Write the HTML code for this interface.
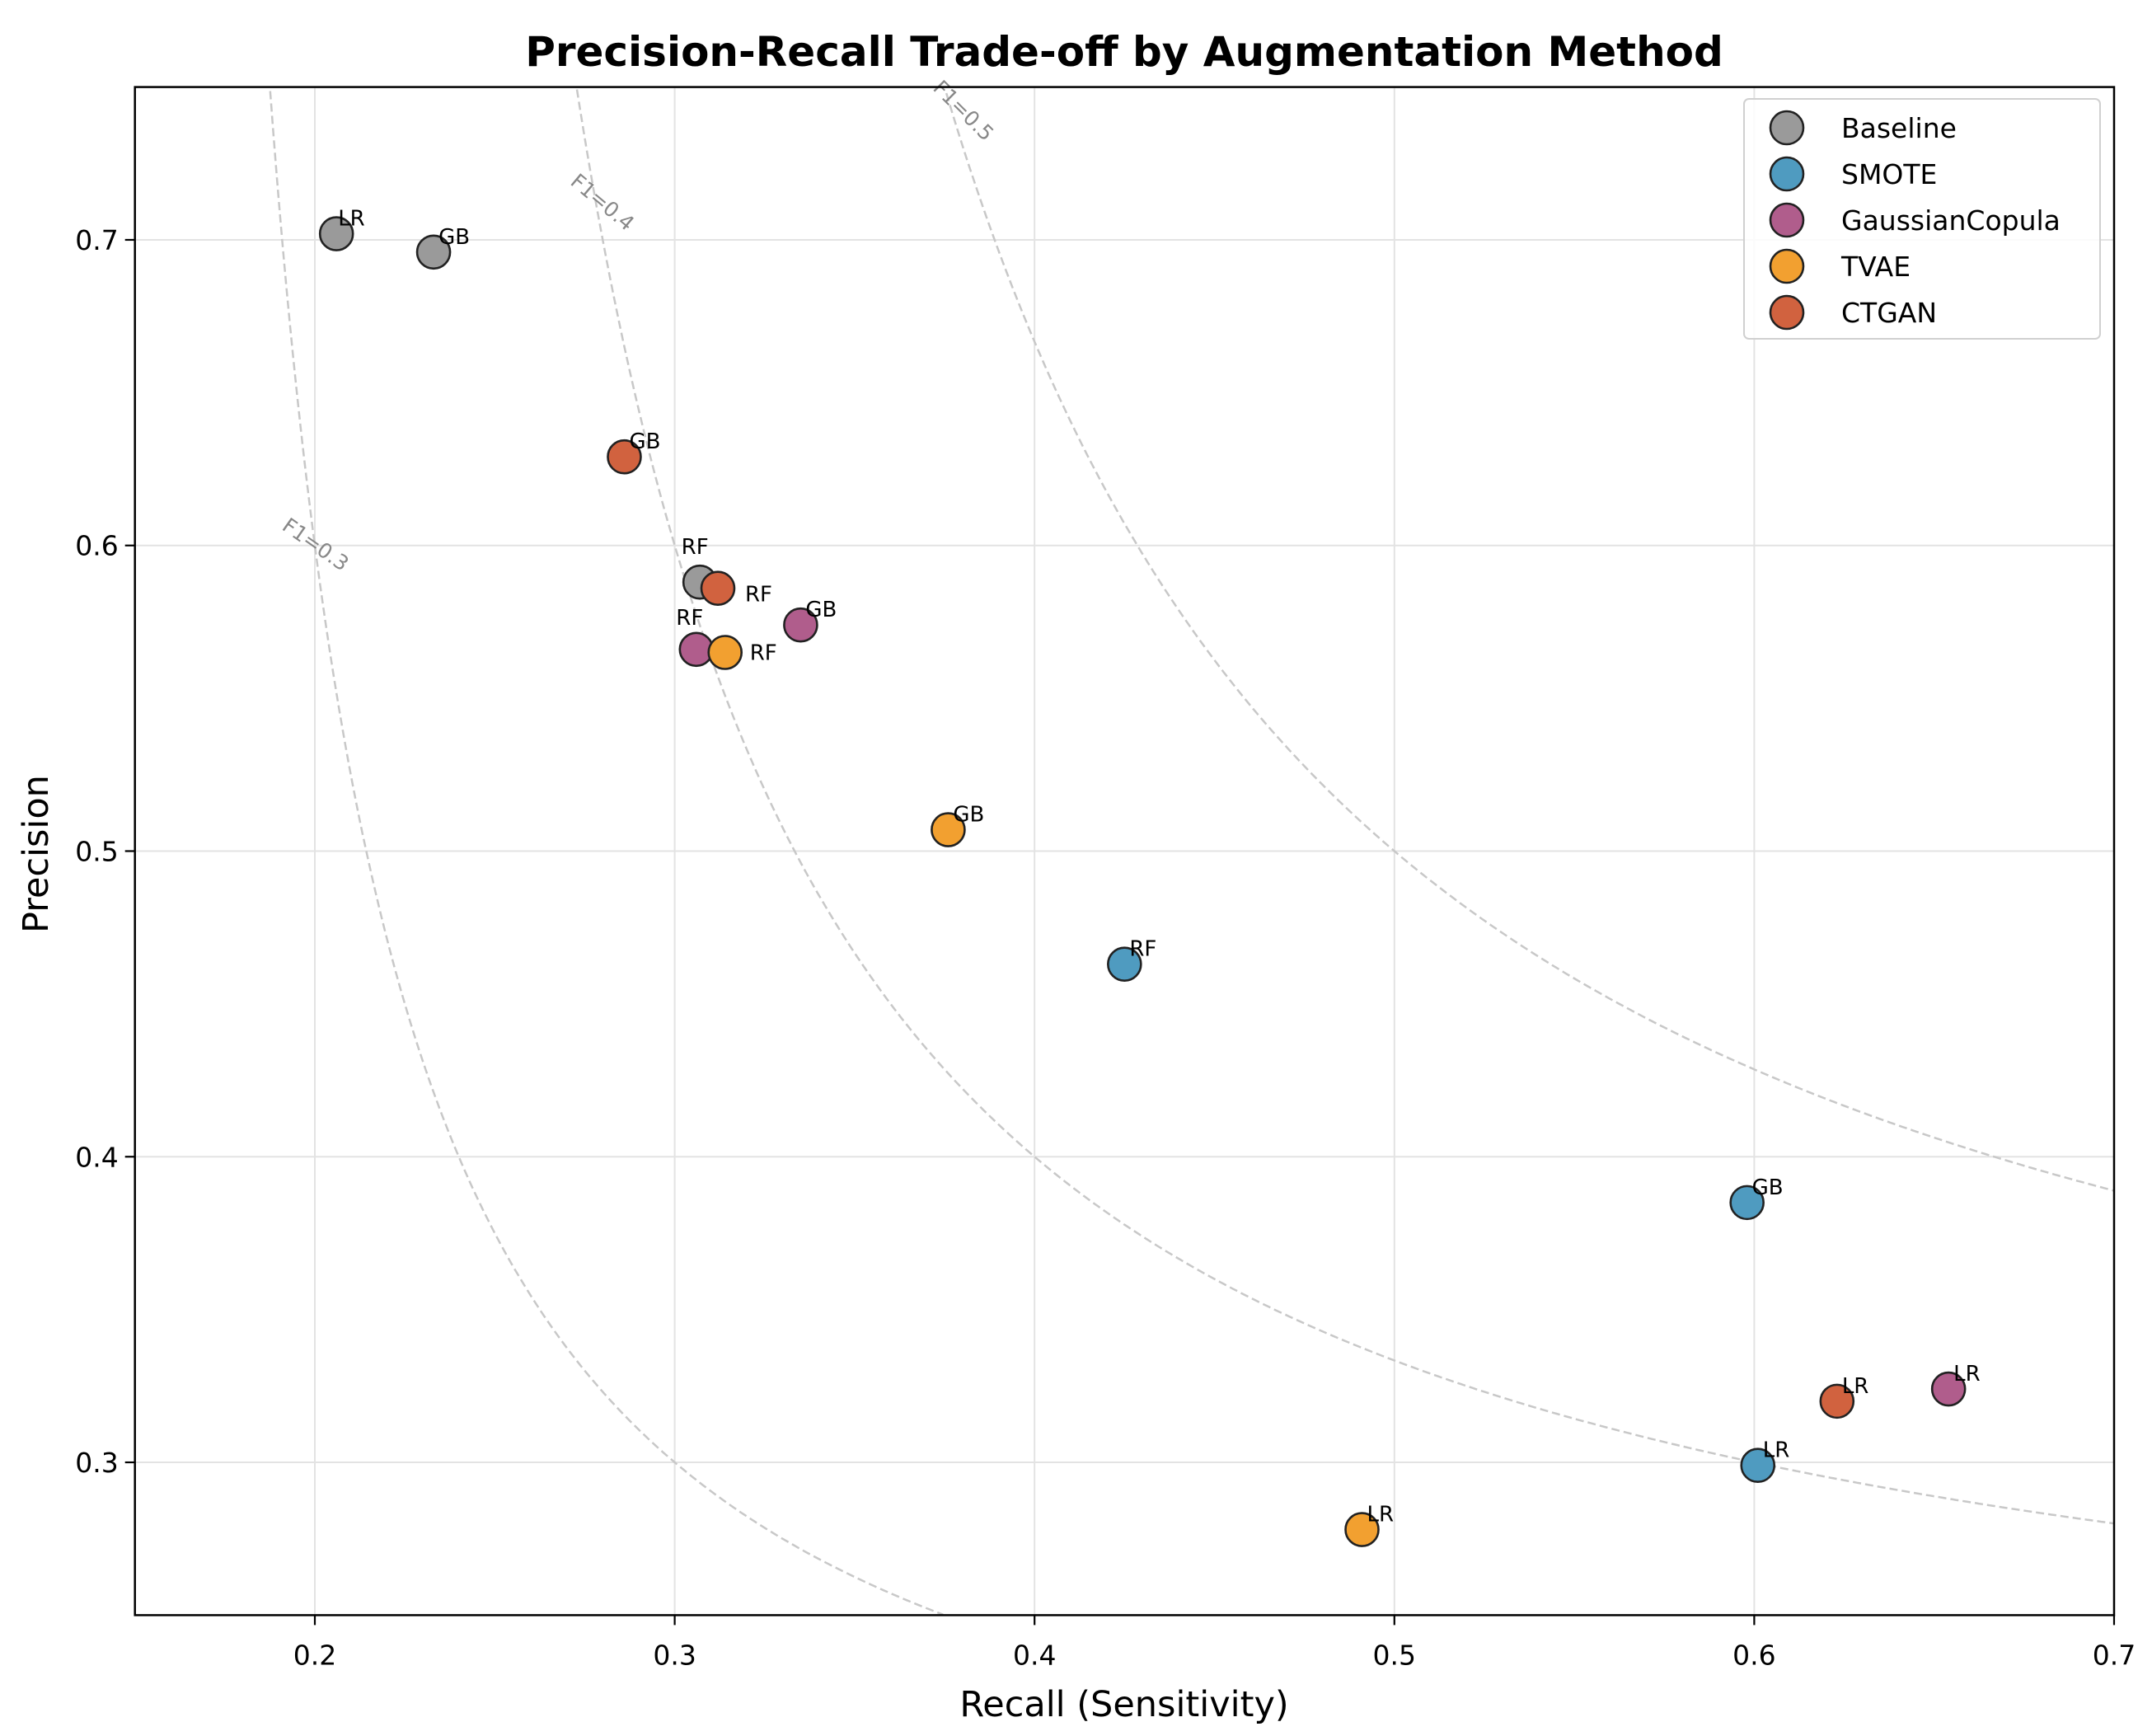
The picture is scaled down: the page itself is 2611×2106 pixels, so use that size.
<!DOCTYPE html>
<html><head><meta charset="utf-8"><style>
html,body{margin:0;padding:0;background:#fff;}
svg{display:block;font-family:"DejaVu Sans","Liberation Sans",sans-serif;}
</style></head><body>
<svg id="chart" width="2611" height="2106" viewBox="0 0 2611 2106">
<rect x="0" y="0" width="2611" height="2106" fill="#fff"/>
<g id="grid"></g>
<g id="curves"></g>
<g id="points"></g>
<g id="axes"></g>
<text x="1364" y="80" text-anchor="middle" font-size="50" font-weight="bold">Precision-Recall Trade-off by Augmentation Method</text>
<text x="1364" y="2082" text-anchor="middle" font-size="43">Recall (Sensitivity)</text>
<text transform="translate(58,1036) rotate(-90)" text-anchor="middle" font-size="43">Precision</text>
<g id="legend"></g>
</svg>
<script>
const methods = ["Baseline","SMOTE","GaussianCopula","TVAE","CTGAN"];
const models = ["LR","GB","RF"];
const recallBaseline = [0.206, 0.233, 0.307];
const precisionBaseline = [0.702, 0.696, 0.588];
const recallSMOTE = [0.601, 0.598, 0.425];
const precisionSMOTE = [0.299, 0.385, 0.463];
const recallGC = [0.654, 0.335, 0.306];
const precisionGC = [0.324, 0.574, 0.566];
const recallTVAE = [0.491, 0.376, 0.314];
const precisionTVAE = [0.278, 0.507, 0.565];
const recallCTGAN = [0.623, 0.286, 0.312];
const precisionCTGAN = [0.320, 0.629, 0.586];
const xTicks = [0.2,0.3,0.4,0.5,0.6,0.7];
const yTicks = [0.3,0.4,0.5,0.6,0.7];
const f1Levels = [0.3,0.4,0.5];

const recalls = [recallBaseline, recallSMOTE, recallGC, recallTVAE, recallCTGAN];
const precisions = [precisionBaseline, precisionSMOTE, precisionGC, precisionTVAE, precisionCTGAN];
const colors = ["#9a9a9a","#4f9bc0","#b05d8c","#f2a030","#d1623f"];
const labelOff = [
 [[2,-10,"start"],[6,-10,"start"],[-6,-34,"middle"]],
 [[6,-10,"start"],[6,-10,"start"],[6,-10,"start"]],
 [[6,-10,"start"],[6,-10,"start"],[-8,-30,"middle"]],
 [[6,-10,"start"],[6,-10,"start"],[30,9,"start"]],
 [[6,-10,"start"],[6,-10,"start"],[33,16,"start"]]
];
const L=163.7,R=2565,T=105.6,B=1959.4;
const xMin=0.15,xMax=0.7,yMin=0.25,yMax=0.75;
const X=v=>L+(v-xMin)/(xMax-xMin)*(R-L);
const Y=v=>B-(v-yMin)/(yMax-yMin)*(B-T);
const NS="http://www.w3.org/2000/svg";
function mk(tag,attrs,parent){const e=document.createElementNS(NS,tag);for(const k in attrs)e.setAttribute(k,attrs[k]);parent.appendChild(e);return e;}

const grid=document.getElementById('grid');
xTicks.forEach(t=>{const l=mk('line',{x1:X(t),x2:X(t),y1:T,y2:B,stroke:'#e3e3e3','stroke-width':2},grid);

});
yTicks.forEach(t=>{const l=mk('line',{x1:L,x2:R,y1:Y(t),y2:Y(t),stroke:'#e3e3e3','stroke-width':2},grid);

});

const curves=document.getElementById('curves');
const labelPos=[[0.2,0.6,35],[0.2797,0.712,40],[0.38,0.742,45]];
f1Levels.forEach((f,i)=>{
  let d="";let first=true;
  for(let k=0;k<=600;k++){
    const r=xMin+(xMax-xMin)*k/600;
    if(2*r-f<=0)continue;
    const p=f*r/(2*r-f);
    if(p>yMax||p<yMin)continue;
    d+=(first?"M":"L")+X(r).toFixed(1)+","+Y(p).toFixed(1);first=false;
  }
  const c=mk('path',{d:d,fill:'none',stroke:'#c8c8c8','stroke-width':2.5,'stroke-dasharray':'10,5'},curves);
  
  
  const [lx,ly,rot]=labelPos[i];
  const t=mk('text',{transform:`translate(${X(lx)},${Y(ly)}) rotate(${rot})`,'font-size':25,fill:'#888','text-anchor':'middle','dominant-baseline':'middle'},curves);
  t.textContent='F1='+f;
  
  
});

const pts=document.getElementById('points');
methods.forEach((m,i)=>{
  models.forEach((md,j)=>{
    const cx=X(recalls[i][j]),cy=Y(precisions[i][j]);
    const c=mk('circle',{cx:cx,cy:cy,r:20,fill:colors[i],stroke:'#222','stroke-width':2.6},pts);
    
    
    const o=labelOff[i][j];
    const t=mk('text',{x:cx+o[0],y:cy+o[1],'font-size':26,'text-anchor':o[2],fill:'#000'},pts);
    t.textContent=md;
    
    
  });
});

const ax=document.getElementById('axes');
const fr=mk('rect',{x:L,y:T,width:R-L,height:B-T,fill:'none',stroke:'#000','stroke-width':2.5},ax);


xTicks.forEach(t=>{
  mk('line',{x1:X(t),x2:X(t),y1:B,y2:B+12,stroke:'#000','stroke-width':2.2},ax);
  const e=mk('text',{x:X(t),y:B+60,'font-size':33,'text-anchor':'middle'},ax);
  e.textContent=t.toFixed(1);
  
  
});
yTicks.forEach(t=>{
  mk('line',{x1:L-12,x2:L,y1:Y(t),y2:Y(t),stroke:'#000','stroke-width':2.2},ax);
  const e=mk('text',{x:L-20,y:Y(t)+12,'font-size':33,'text-anchor':'end'},ax);
  e.textContent=t.toFixed(1);
  
  
});

const lg=document.getElementById('legend');
const box=mk('rect',{x:2116,y:120,width:432,height:291,rx:6,fill:'#fff','fill-opacity':0.85,stroke:'#d0d0d0','stroke-width':2},lg);


methods.forEach((m,i)=>{
  const y=155+i*56;
  const g=mk('g',{},lg);
  
  
  mk('circle',{cx:2168,cy:y,r:20,fill:colors[i],stroke:'#222','stroke-width':2.6},g);
  const t=mk('text',{x:2234,y:y+12,'font-size':33},g);
  t.textContent=m;
});
</script>
</body></html>
